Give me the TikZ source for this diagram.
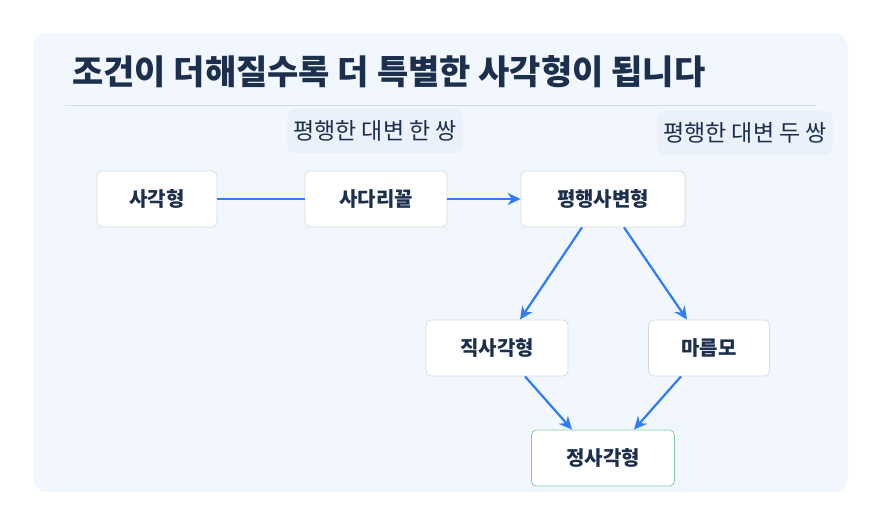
\documentclass[tikz,border=0pt]{standalone}
\usepackage{fontspec}
\setmainfont{Noto Sans CJK KR}
\usetikzlibrary{arrows.meta,positioning}
\definecolor{panel}{HTML}{F2F7FD}
\definecolor{edge}{HTML}{D3DDE8}
\definecolor{ink}{HTML}{1C2F4D}
\definecolor{flow}{HTML}{2F7CF6}
\definecolor{pill}{HTML}{EBF1FB}
\definecolor{okgreen}{HTML}{7CCFAE}
\begin{document}
\begin{tikzpicture}[x=1pt,y=-1pt,
  box/.style={draw=edge,fill=white,rounded corners=5pt,line width=0.8pt,
    minimum height=56pt,font=\fontsize{20}{24}\selectfont\bfseries,text=ink},
  tag/.style={fill=pill,rounded corners=8pt,inner xsep=6pt,minimum height=44pt,
    font=\fontsize{23}{26}\selectfont,text=ink},
  link/.style={flow,line width=2.2pt},
  arr/.style={link,-{Stealth[length=13pt,width=12pt]}}]
  \useasboundingbox (0,0) rectangle (881,526);
  % panel and title
  \fill[panel,rounded corners=14pt] (33,33) rectangle (848,492);
  \node[text=ink,font=\fontsize{34}{40}\selectfont\bfseries,anchor=west,inner sep=0pt] (title) at (72,72) {조건이 더해질수록 더 특별한 사각형이 됩니다};
  \draw[edge,line width=0.8pt] (65,105) -- (815,105);
  % labels
  \node[tag] (one) at (375,131) {평행한 대변 한 쌍};
  \node[tag] (two) at (745,133) {평행한 대변 두 쌍};
  % shapes
  \node[box,minimum width=120pt] (quad) at (157,199) {사각형};
  \node[box,minimum width=142pt] (trap) at (376,199) {사다리꼴};
  \node[box,minimum width=164pt] (para) at (603,199) {평행사변형};
  \node[box,minimum width=142pt] (rect) at (497,348) {직사각형};
  \node[box,minimum width=121pt] (rhom) at (709,348) {마름모};
  \node[box,draw=okgreen,minimum width=143pt] (squa) at (603,458) {정사각형};
  % connectors
  \draw[link] (quad) -- (trap);
  \draw[arr] (trap) -- (para);
  \draw[arr] ([xshift=-21pt]para.south) -- ([xshift=23pt]rect.north);
  \draw[arr] ([xshift=21pt]para.south) -- ([xshift=-22pt]rhom.north);
  \draw[arr] ([xshift=28pt]rect.south) -- ([xshift=-31pt]squa.north);
  \draw[arr] ([xshift=-28pt]rhom.south) -- ([xshift=31pt]squa.north);
\end{tikzpicture}
\end{document}
